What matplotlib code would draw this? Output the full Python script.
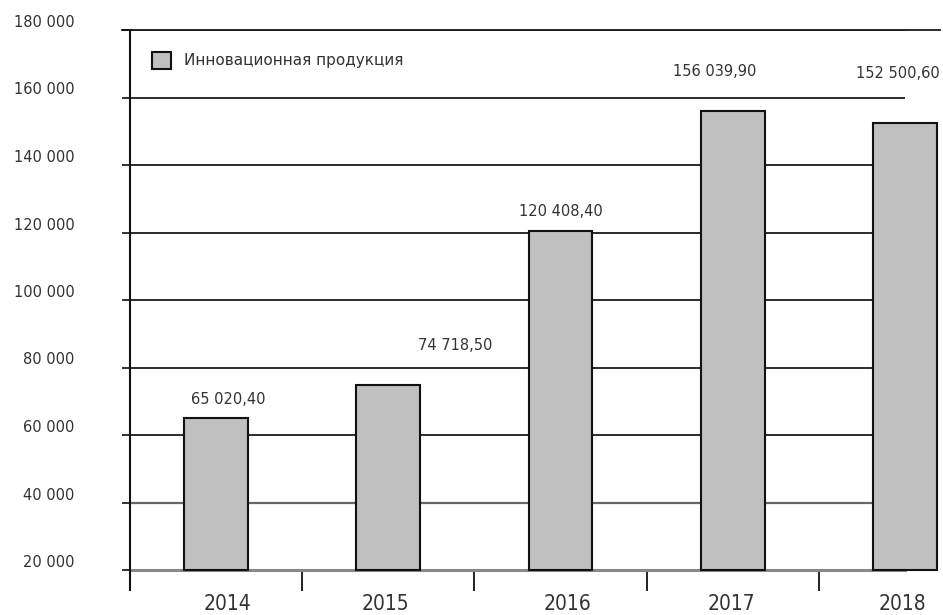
import matplotlib
matplotlib.use('Agg')
import matplotlib.pyplot as plt
from matplotlib.patches import Patch
from matplotlib.lines import Line2D

# данные
years = ['2014', '2015', '2016', '2017', '2018']
values = [65020.40, 74718.50, 120408.40, 156039.90, 152500.60]
value_labels = ['65 020,40', '74 718,50', '120 408,40', '156 039,90', '152 500,60']
y_ticks = [20000, 40000, 60000, 80000, 100000, 120000, 140000, 160000, 180000]
legend_label = 'Инновационная продукция'

# сдвиг подписей значений относительно верха столбца (в точках)
label_offsets = [(9, 8), (48, 23), (0, 9), (-13, 23), (-5, 30)]
# сдвиг подписей годов (в точках)
year_offsets = [8, -2, 5, -1, -2]

text_color = '#333333'

fig = plt.figure(figsize=(9.43, 6.15), dpi=100)
ax = fig.add_axes([130 / 943, 1 - 570 / 615, 775 / 943, 540 / 615])

x = list(range(len(years)))
bars = ax.bar(x, [v - 20000 for v in values], bottom=20000, width=0.37,
              color='#c0c0c0', edgecolor='#111111', linewidth=1.5, zorder=3)
for b in bars:
    b.set_clip_on(False)

ax.set_xlim(-0.5, 4.0)
ax.set_ylim(20000, 180000)

# горизонтальные линии сетки
for t in y_ticks[1:]:
    ax.axhline(t, color='#1a1a1a', linewidth=1.3, zorder=1)
ax.axhline(40000, color='#666666', linewidth=1.6, zorder=1)
ax.axhline(180000, xmin=-0.01, xmax=1.045, color='#1a1a1a', linewidth=1.3, zorder=1, clip_on=False)

# подписи значений
for xi, v, s, (dx, dy) in zip(x, values, value_labels, label_offsets):
    ax.annotate(s, (xi, v), xytext=(dx, dy), textcoords='offset points',
                ha='center', va='bottom', fontsize=10.5, color=text_color)

# оси
for side in ['top', 'right']:
    ax.spines[side].set_visible(False)
ax.spines['left'].set_color('#111111')
ax.spines['left'].set_linewidth(1.5)
ax.spines['bottom'].set_color('#888888')
ax.spines['bottom'].set_linewidth(2.2)
# продолжение вертикальной оси ниже нуля
fig.add_artist(Line2D([130 / 943, 130 / 943], [1 - 570 / 615, 1 - 590 / 615],
                      color='#111111', linewidth=1.5))

ax.set_yticks(y_ticks)
ax.set_yticklabels(['{:,}'.format(t).replace(',', ' ') for t in y_ticks])
ax.tick_params(axis='y', direction='out', length=6, width=1.2, color='#111111',
               pad=34, labelsize=10.5, labelcolor=text_color)
for lab in ax.get_yticklabels():
    lab.set_verticalalignment('bottom')

ax.set_xticks([0.5, 1.5, 2.5, 3.5])
ax.set_xticklabels([])
ax.tick_params(axis='x', direction='out', length=15, width=1.3, color='#111111')
for xi, yr, dx in zip(x, years, year_offsets):
    ax.annotate(yr, (xi, 0), xycoords=ax.get_xaxis_transform(), xytext=(dx, -28.5),
                textcoords='offset points', ha='center', va='baseline',
                fontsize=15, fontstretch='condensed', color=text_color)

ax.legend(handles=[Patch(facecolor='#c0c0c0', edgecolor='#111111', linewidth=1.5, label=legend_label)],
          loc='upper left', bbox_to_anchor=(0.01, 0.985), frameon=False, fontsize=11,
          handlelength=1.3, handleheight=1.3, labelcolor=text_color)

plt.savefig('out.png', dpi=100)
